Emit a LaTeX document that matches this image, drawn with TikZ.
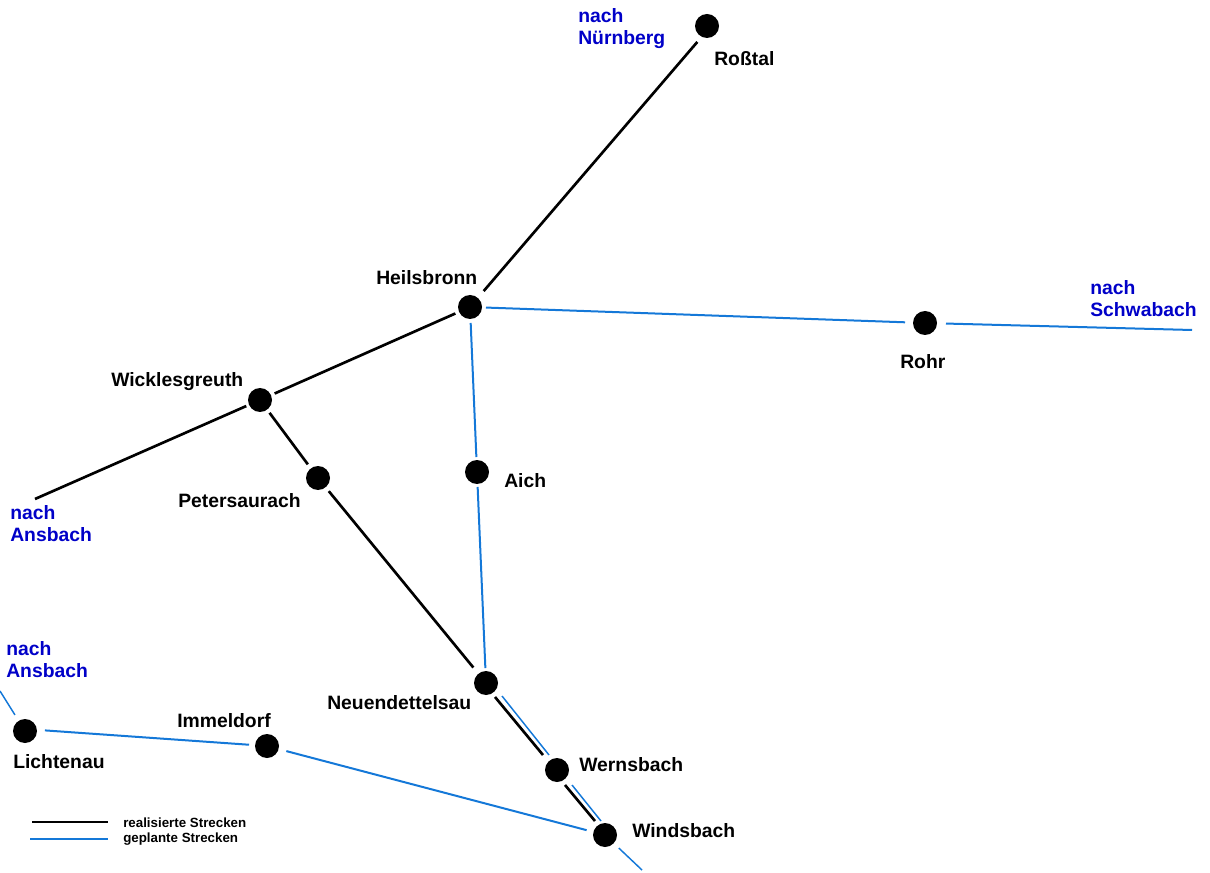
\documentclass[tikz,border=0pt]{standalone}
\usepackage{fontspec}
\setmainfont{Liberation Sans}
\definecolor{planblue}{HTML}{1478D8}
\definecolor{labelblue}{HTML}{0000C8}
\tikzset{
  x=0.75pt,y=-0.75pt,
  station/.style={circle,fill=black,draw=none,minimum size=18pt,inner sep=0pt,outer sep=0pt},
  placename/.style={anchor=base west,inner sep=0pt,font=\fontsize{14.5}{16.5}\selectfont\bfseries,text=black},
  dest/.style={anchor=west,align=left,inner sep=0pt,font=\fontsize{14.5}{16.5}\selectfont\bfseries,text=labelblue},
  legendtext/.style={anchor=west,inner sep=0pt,font=\fontsize{10}{12}\selectfont\bfseries,text=black},
  built/.style={draw=black,line width=2pt},
  planned/.style={draw=planblue,line width=1.5pt},
  thinplanned/.style={draw=planblue,line width=1.1pt},
  sa/.style={shorten <=#1*0.75pt},
  sb/.style={shorten >=#1*0.75pt}
}
\begin{document}
\begin{tikzpicture}
\useasboundingbox (0,0) rectangle (1210,873);
% stations
\node[station] (rosstal) at (707,26) {};
\node[station] (heils) at (470,307) {};
\node[station] (rohr) at (925,323) {};
\node[station] (wick) at (260,400) {};
\node[station] (peter) at (318,478) {};
\node[station] (aich) at (477,472) {};
\node[station] (neuen) at (486,683) {};
\node[station] (werns) at (557,770) {};
\node[station] (winds) at (605,835) {};
\node[station] (licht) at (25,731) {};
\node[station] (immel) at (267,746) {};
% free ends
\coordinate (ansbachA) at (35,499);
\coordinate (schwabach) at (1192,330);
\coordinate (ansbachB) at (0,691);
\coordinate (south) at (642,870);
\coordinate (nb1) at (502,696);
\coordinate (nb2) at (549,755);
\coordinate (wb1) at (572,785);
\coordinate (wb2) at (601,821);
\coordinate (nk1) at (495,697);
\coordinate (nk2) at (543,755);
\coordinate (wk1) at (565,785);
\coordinate (wk2) at (595,821);
\coordinate (lb1) at (32,822);
\coordinate (lb2) at (108,822);
\coordinate (lp1) at (30,839);
\coordinate (lp2) at (108,839);
\coordinate (rosstalaim) at (711,26);
\coordinate (lichtaim) at (25,729);
% built lines
\draw[built,sa=21,sb=9] (rosstalaim) -- (heils);
\draw[built,sa=4,sb=4] (heils) -- (wick);
\draw[built,sa=3] (wick) -- (ansbachA);
\draw[built,sa=4,sb=5] (wick) -- (peter);
\draw[built,sa=5,sb=8] (peter) -- (neuen);
\draw[built] (nk1) -- (nk2);
\draw[built] (wk1) -- (wk2);
% planned lines
\draw[planned,sa=4,sb=3] (heils) -- (aich);
\draw[planned,sa=3,sb=3] (aich) -- (neuen);
\draw[planned,sa=4,sb=8] (heils) -- (rohr);
\draw[planned,sa=9] (rohr) -- (schwabach);
\draw[planned,sa=20,sb=6] (lichtaim) -- (immel);
\draw[planned,sa=8,sb=7] (immel) -- (winds);
\draw[thinplanned,sa=7] (licht) -- (ansbachB);
\draw[thinplanned] (nb1) -- (nb2);
\draw[thinplanned] (wb1) -- (wb2);
\draw[thinplanned,sa=7] (winds) -- (south);
% legend
\draw[built] (lb1) -- (lb2);
\draw[planned] (lp1) -- (lp2);
\node[legendtext] (lt1) at (123,823) {realisierte Strecken};
\node[legendtext] (lt2) at (123,839) {geplante Strecken};
% names
\node[placename] (t1) at (714,66) {Roßtal};
\node[placename] (t2) at (376,285) {Heilsbronn};
\node[placename] (t3) at (900,369) {Rohr};
\node[placename] (t4) at (111,387) {Wicklesgreuth};
\node[placename] (t5) at (178,507) {Petersaurach};
\node[placename] (t6) at (504,487) {Aich};
\node[placename] (t7) at (327,709) {Neuendettelsau};
\node[placename] (t8) at (579,771) {Wernsbach};
\node[placename] (t9) at (632,837) {Windsbach};
\node[placename] (t10) at (13,768) {Lichtenau};
\node[placename] (t11) at (177,727) {Immeldorf};
% destinations
\node[dest] (d1) at (578,29) {nach\\Nürnberg};
\node[dest] (d2) at (1090,299) {nach\\Schwabach};
\node[dest] (d3) at (10,524) {nach\\Ansbach};
\node[dest] (d4) at (6,660) {nach\\Ansbach};
\end{tikzpicture}
\end{document}
